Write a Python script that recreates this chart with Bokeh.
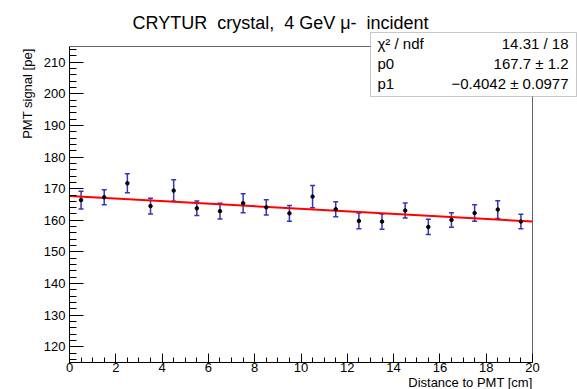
from bokeh.plotting import figure
from bokeh.models import (Range1d, SingleIntervalTicker, Label, BoxAnnotation,
                          Whisker, TeeHead, ColumnDataSource, Title)
from bokeh.embed import file_html
from bokeh.resources import INLINE

# ---- data ----
distance = [0.5, 1.5, 2.5, 3.5, 4.5, 5.5, 6.5, 7.5, 8.5, 9.5,
            10.5, 11.5, 12.5, 13.5, 14.5, 15.5, 16.5, 17.5, 18.5, 19.5]
signal = [166.4, 167.3, 171.7, 164.5, 169.4, 163.8, 162.9, 165.4, 164.1, 162.2,
          167.5, 163.5, 159.8, 159.6, 163.1, 157.9, 160.1, 162.3, 163.4, 159.6]
signal_err = [2.8, 2.4, 3.0, 2.5, 3.4, 2.3, 2.5, 3.0, 2.4, 2.5,
              3.5, 2.4, 2.5, 2.4, 2.4, 2.4, 2.3, 2.6, 2.8, 2.3]
fit_p0 = 167.7
fit_p1 = -0.4042
stats_names = ["\u03c7\u00b2 / ndf", "p0", "p1"]
stats_values = ["14.31 / 18", "167.7 \u00b1 1.2", "\u22120.4042 \u00b1 0.0977"]
title_text = "CRYTUR\u00a0 crystal,\u00a0 4 GeV \u03bc-\u00a0 incident"
x_title = "Distance to PMT [cm]"
y_title = "PMT signal [pe]"

X0, X1 = 0, 20
Y0, Y1 = 115, 215
FONT = "Liberation Sans"
W, H = 577, 389
# axis box in page pixels
AL, AR, AT, AB = 69, 532, 46, 362
# plotting frame spans to the right and top edges so the overlays are not clipped
FR, FT = W, 0
ppx = (X1 - X0) / (AR - AL)
ppy = (Y1 - Y0) / (AB - AT)


def dx(px):
    return X0 + (px - AL) * ppx


def dy(py):
    return Y1 - (py - AT) * ppy


p = figure(width=W, height=H, output_backend="svg", toolbar_location=None,
           x_range=Range1d(X0, dx(FR)), y_range=Range1d(Y0, dy(FT)),
           min_border_left=AL, min_border_right=0,
           min_border_top=0, min_border_bottom=H - AB,
           title=None)
p.grid.visible = False
p.outline_line_color = None
p.background_fill_color = "white"
p.border_fill_color = "white"

p.xaxis.ticker = SingleIntervalTicker(interval=2, num_minor_ticks=4)
p.yaxis.ticker = SingleIntervalTicker(interval=10, num_minor_ticks=5)
p.xaxis.bounds = (X0, X1)
p.yaxis.bounds = (Y0, Y1)
for ax in (p.xaxis, p.yaxis):
    ax.axis_line_color = "black"
    ax.major_tick_line_color = "black"
    ax.minor_tick_line_color = "black"
    ax.major_tick_out = 0
    ax.minor_tick_out = 0
    ax.major_label_text_font = FONT
    ax.major_label_text_font_size = "13px"
    ax.major_label_text_color = "black"
p.xaxis.major_tick_in = 9
p.xaxis.minor_tick_in = 5
p.yaxis.major_tick_in = 14
p.yaxis.minor_tick_in = 7
p.xaxis.major_label_standoff = 0
p.yaxis.major_label_standoff = 4

# axis titles, right-aligned at the end of each axis (ROOT style)
p.add_layout(Title(text=x_title, align="right", offset=(W - AR), standoff=-4,
                   text_font=FONT, text_font_size="13px", text_font_style="normal",
                   text_color="black"), "below")
p.add_layout(Title(text=y_title, align="right", offset=(AT + 2), standoff=12,
                   text_font=FONT, text_font_size="13px", text_font_style="normal",
                   text_color="black"), "left")

# frame edges (top and right) of the axis box
p.segment(x0=[X0, X1], y0=[Y1, Y0], x1=[X1, X1], y1=[Y1, Y1],
          line_color="#666666", line_width=1)

src = ColumnDataSource(dict(
    x=distance, y=signal,
    lo=[s - e for s, e in zip(signal, signal_err)],
    hi=[s + e for s, e in zip(signal, signal_err)],
))
err_col = "#3535b8"
p.add_layout(Whisker(source=src, base="x", lower="lo", upper="hi", dimension="height",
                     line_color=err_col, line_width=1.5,
                     lower_head=TeeHead(size=5, line_color=err_col, line_width=1.5),
                     upper_head=TeeHead(size=5, line_color=err_col, line_width=1.5)))
# fit line p0 + p1*x over the axis range
p.line(x=[X0, X1], y=[fit_p0 + fit_p1 * X0, fit_p0 + fit_p1 * X1],
       line_color="#ff0000", line_width=2)
p.scatter("x", "y", source=src, size=3.5, color="black")

# title
p.add_layout(Label(x=dx(132), y=dy(22), text=title_text, text_font=FONT,
                   text_font_size="18px", text_align="left", text_baseline="middle",
                   text_color="black"))

# stats box
p.add_layout(BoxAnnotation(left=dx(370), right=dx(576), top=dy(32), bottom=dy(96),
                           fill_color="white", fill_alpha=1.0,
                           line_color="#444444", line_width=1, level="overlay"))
for name, val, ry in zip(stats_names, stats_values, [43, 63, 83]):
    p.add_layout(Label(x=dx(377), y=dy(ry), text=name, text_font=FONT,
                       text_font_size="15px", text_align="left", text_baseline="middle",
                       text_color="black", level="overlay"))
    p.add_layout(Label(x=dx(568), y=dy(ry), text=val, text_font=FONT,
                       text_font_size="15px", text_align="right", text_baseline="middle",
                       text_color="black", level="overlay"))

open("out.html", "w").write(file_html(p, INLINE))
